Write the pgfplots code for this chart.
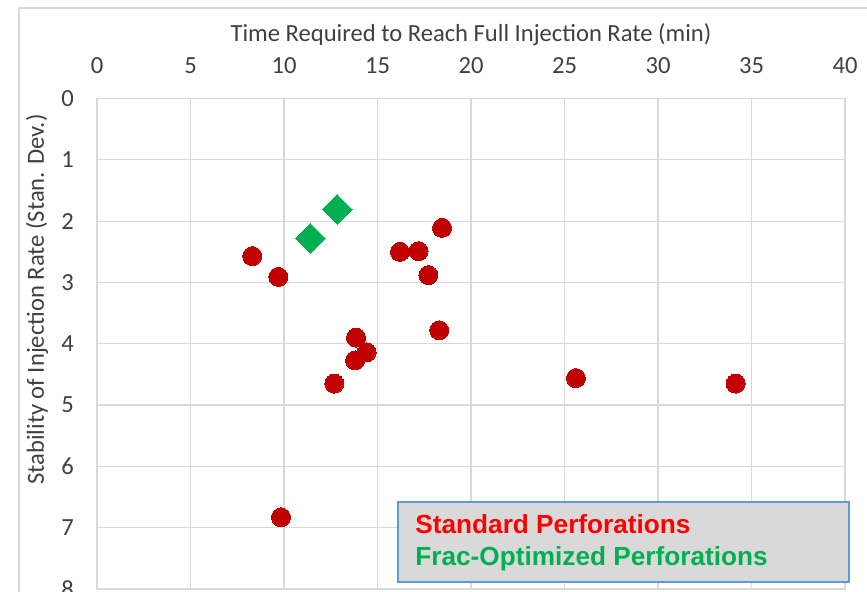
\documentclass[border=0pt]{standalone}
\usepackage{fontspec}
\setmainfont{Carlito}
\newfontfamily\arialfont{Liberation Sans}
\usepackage{pgfplots}
\pgfplotsset{compat=1.18}
\definecolor{mkred}{HTML}{C00000}
\definecolor{mkgreen}{HTML}{00B050}
\definecolor{lgred}{HTML}{FF0000}
\definecolor{gridgray}{HTML}{D9D9D9}
\definecolor{txtgray}{HTML}{404040}
\definecolor{lgblue}{HTML}{5B9BD5}
\definecolor{lgfill}{HTML}{D9D9D9}
\begin{document}
\begin{tikzpicture}
\draw[gridgray, line width=0.6pt] (9.5pt,-2pt) -- (9.5pt,292pt) -- (440pt,292pt);
\begin{axis}[
 at={(48.5pt,1.5pt)}, anchor=south west,
 scale only axis, width=374pt, height=245.25pt,
 xmin=0, xmax=40, ymin=0, ymax=8, y dir=reverse,
 xtick={0,5,...,40}, ytick={0,1,...,8},
 xticklabel pos=upper,
 grid=major, major grid style={gridgray, line width=0.6pt},
 axis line style={gridgray, line width=0.6pt},
 major tick length=0pt,
 /pgf/number format/assume math mode=true,
 tick label style={font=\fontsize{12.3}{14}\selectfont, text=txtgray},
 xticklabel style={anchor=center, yshift=16.5pt},
 yticklabel style={anchor=center, xshift=-14.75pt},
 xlabel={Time Required to Reach Full Injection Rate (min)},
 ylabel={Stability of Injection Rate (Stan. Dev.)},
 every axis x label/.style={at={(axis description cs:0.5,1)}, anchor=base, yshift=28.75pt, font=\fontsize{12.3}{14}\selectfont, text=txtgray},
 every axis y label/.style={at={(axis description cs:-0.0802,0.59)}, rotate=90, anchor=center, font=\fontsize{12.3}{14}\selectfont, text=txtgray},
 clip=false,
]
\addplot[only marks, color=mkred, mark=*, mark size=4.75pt, mark options={draw=mkred, fill=mkred, line width=0pt}] coordinates {
(8.30,2.57) (9.70,2.91) (9.84,6.83) (12.69,4.65) (13.80,4.27) (13.85,3.90)
(14.42,4.14) (16.20,2.50) (17.20,2.49) (17.72,2.88) (18.30,3.78) (18.45,2.11)
(25.61,4.56) (34.15,4.65)
};
\addplot[only marks, color=mkgreen, mark=square*, mark size=5.23pt, mark options={draw=mkgreen, fill=mkgreen, line width=0pt, rotate=45}] coordinates {
(11.41,2.28) (12.85,1.81)
};
\end{axis}
\draw[lgblue, line width=0.7pt, fill=lgfill] (199pt,5pt) rectangle (424.5pt,45pt);
\node[anchor=base west, inner sep=0pt, text=lgred, font=\arialfont\bfseries\fontsize{13.1}{15}\selectfont] at (207.5pt,29pt) {Standard Perforations};
\node[anchor=base west, inner sep=0pt, text=mkgreen, font=\arialfont\bfseries\fontsize{13.1}{15}\selectfont] at (207.5pt,13pt) {Frac-Optimized Perforations};
\pgfresetboundingbox
\path[use as bounding box] (0pt,0pt) rectangle (433.5pt,296pt);
\end{tikzpicture}
\end{document}
